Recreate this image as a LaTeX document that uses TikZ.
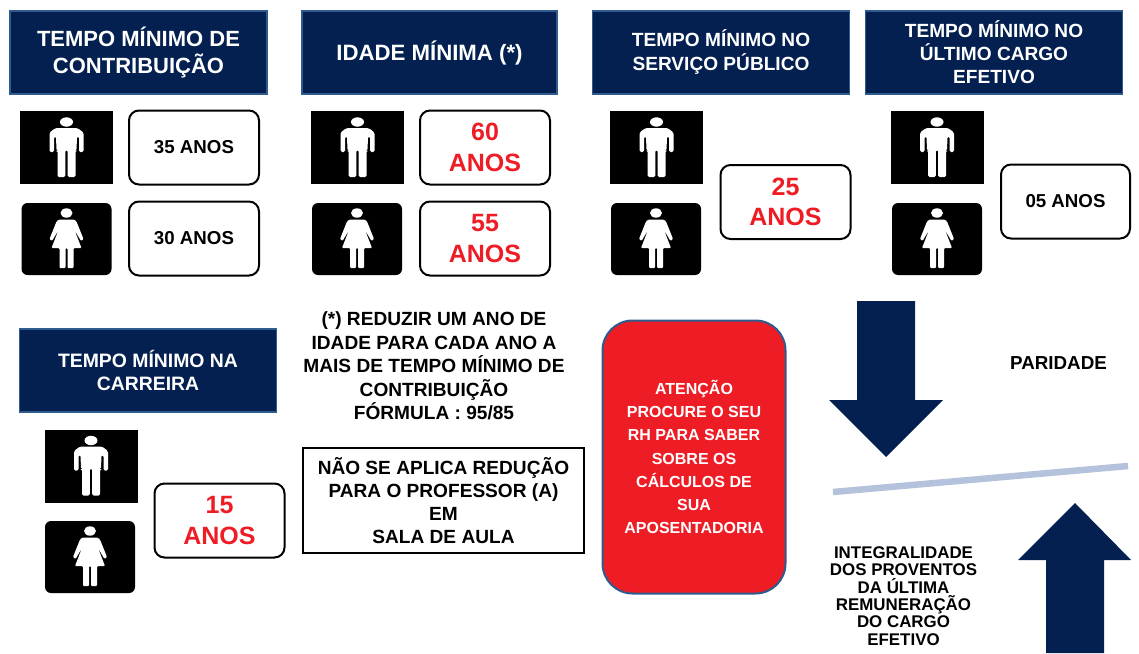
\documentclass[tikz,border=0pt]{standalone}
\usepackage{fontspec}
\setmainfont{Liberation Sans}
\definecolor{navy}{HTML}{042050}
\definecolor{navyedge}{HTML}{2F5C8F}
\definecolor{redbox}{HTML}{EE1C25}
\definecolor{redtxt}{HTML}{EE1C25}
\definecolor{slatebar}{HTML}{B4C2DC}
\tikzset{
  x=1pt,y=-1pt,
  header/.style={draw=navyedge,line width=1.5pt,fill=navy,text=white,align=center,inner sep=0pt,minimum width=#1,minimum height=83pt},
  valuebox/.style={draw=black,line width=2pt,fill=white,rounded corners=10pt,minimum width=130pt,minimum height=74pt,align=center,inner sep=0pt},
  plain/.style={font=\fontsize{18.7}{22}\selectfont\bfseries,text=black},
  big/.style={font=\fontsize{25}{30.5}\selectfont\bfseries,text=redtxt},
  txt/.style={align=center,inner sep=0pt,text=black},
  iconbox/.style={fill=black,inner sep=0pt,minimum width=93pt,minimum height=73pt},
  iconboxr/.style={fill=black,rounded corners=6pt,inner sep=0pt,minimum width=90pt,minimum height=72pt},
  man/.pic={
    \fill[white] (0,-25.5) ellipse [x radius=6.5,y radius=4.7];
    \fill[white,rounded corners=1.5pt] (-11,-19.5) -- (11,-19.5) -- (17,-15) -- (17,4.5) -- (12.5,4.5) -- (12.5,-11) -- (10.5,-11) -- (10,3) -- (9,3) -- (9,29.5) -- (1.2,29.5) -- (1.2,2.5) -- (-1.2,2.5) -- (-1.2,29.5) -- (-9,29.5) -- (-9,3) -- (-10,3) -- (-10.5,-11) -- (-12.5,-11) -- (-12.5,4.5) -- (-17,4.5) -- (-17,-15) -- cycle;
  },
  woman/.pic={
    \fill[white] (0,-26) ellipse [x radius=6,y radius=4.7];
    \fill[white,rounded corners=1pt] (-7.5,-19.5) -- (7.5,-19.5) -- (10,-17.5) -- (17,0) -- (14.5,2) -- (8,-9) -- (15,9) -- (7,9) -- (7,29) -- (1,29) -- (1,9) -- (-1,9) -- (-1,29) -- (-7,29) -- (-7,9) -- (-15,9) -- (-8,-9) -- (-14.5,2) -- (-17,0) -- (-10,-17.5) -- cycle;
  },
}
\begin{document}
\begin{tikzpicture}
\useasboundingbox (0,0) rectangle (1139,653);
% headers
\node[header=257pt,font=\fontsize{22}{27}\selectfont\bfseries] (h1) at (138.5,52.5) {TEMPO MÍNIMO DE\\CONTRIBUIÇÃO};
\node[header=255pt,font=\fontsize{22.2}{27}\selectfont\bfseries] (h2) at (429.5,52.5) {IDADE MÍNIMA (*)};
\node[header=257pt,font=\fontsize{19.1}{24}\selectfont\bfseries] (h3) at (721,52.5) {TEMPO MÍNIMO NO\\SERVIÇO PÚBLICO};
\node[header=257pt,font=\fontsize{19.1}{23}\selectfont\bfseries] (h4) at (994,52.5) {\raisebox{1.5pt}{TEMPO MÍNIMO NO}\\\raisebox{1.5pt}{ÚLTIMO CARGO}\\\raisebox{1.5pt}{EFETIVO}};
\node[header=257pt,font=\fontsize{19.4}{23}\selectfont\bfseries] (h5) at (148,370.5) {\raisebox{1pt}{TEMPO MÍNIMO NA}\\\raisebox{1pt}{CARREIRA}};
% icons
\node[iconbox] (m1) at (66.5,147.5) {}; \pic at (m1.center) {man};
\node[iconboxr] (w1) at (66.5,239) {}; \pic at (w1.center) {woman};
\node[iconbox] (m2) at (357.5,147.5) {}; \pic at (m2.center) {man};
\node[iconboxr] (w2) at (357,239) {}; \pic at (w2.center) {woman};
\node[iconbox] (m3) at (656.5,147.5) {}; \pic at (m3.center) {man};
\node[iconboxr] (w3) at (656,239) {}; \pic at (w3.center) {woman};
\node[iconbox] (m4) at (937,147.5) {}; \pic at (m4.center) {man};
\node[iconboxr] (w4) at (937,239) {}; \pic at (w4.center) {woman};
\node[iconbox] (m5) at (91,466) {}; \pic at (m5.center) {man};
\node[iconboxr] (w5) at (90,557) {}; \pic at (w5.center) {woman};
% values
\node[valuebox,plain] (v1) at (194,147.5) {35 ANOS};
\node[valuebox,plain] (v2) at (194,238.5) {30 ANOS};
\node[valuebox,big] (v3) at (485,147.5) {60\\ANOS};
\node[valuebox,big] (v4) at (485,238.5) {55\\ANOS};
\node[valuebox,big] (v5) at (785.5,202) {25\\ANOS};
\node[valuebox,plain,minimum width=129pt] (v6) at (1065.5,201.5) {05 ANOS};
\node[valuebox,big] (v7) at (219.5,520.5) {15\\ANOS};
% notes
\node[txt,font=\fontsize{19.1}{23.6}\selectfont\bfseries] (note) at (434,366) {(*) REDUZIR UM ANO DE\\IDADE PARA CADA ANO A\\MAIS DE TEMPO MÍNIMO DE\\CONTRIBUIÇÃO\\FÓRMULA : 95/85};
\node[draw=black,line width=2pt,fill=white,minimum width=281pt,minimum height=105pt,align=center,inner sep=0pt,font=\fontsize{19.1}{23}\selectfont\bfseries] (prof) at (443.5,500.5) {NÃO SE APLICA REDUÇÃO\\PARA O PROFESSOR (A)\\EM\\SALA DE AULA};
\node[draw=navyedge,line width=2pt,fill=redbox,rounded corners=30pt,minimum width=183pt,minimum height=273pt,text=white,align=center,inner sep=0pt,font=\fontsize{16}{23.3}\selectfont\bfseries] (att) at (694,457) {ATENÇÃO\\PROCURE O SEU\\RH PARA SABER\\SOBRE OS\\CÁLCULOS DE\\SUA\\APOSENTADORIA};
% right side
\node[txt,font=\fontsize{18.8}{22}\selectfont\bfseries] (par) at (1058.5,363) {PARIDADE};
\node[txt,font=\fontsize{16.9}{17.4}\selectfont\bfseries] (integ) at (903.5,596) {INTEGRALIDADE\\DOS PROVENTOS\\DA ÚLTIMA\\REMUNERAÇÃO\\DO CARGO\\EFETIVO};
\coordinate (b1) at (833,492);
\coordinate (b2) at (1128,466);
\draw[slatebar,line width=6.5pt] (b1) -- (b2);
\fill[navy] (857,301) -- (915,301) -- (915,400) -- (943,400) -- (886,457) -- (829,400) -- (857,400) -- cycle;
\fill[navy] (1046,653) -- (1104,653) -- (1104,560) -- (1131,560) -- (1075,503) -- (1018,560) -- (1046,560) -- cycle;
\end{tikzpicture}
\end{document}
